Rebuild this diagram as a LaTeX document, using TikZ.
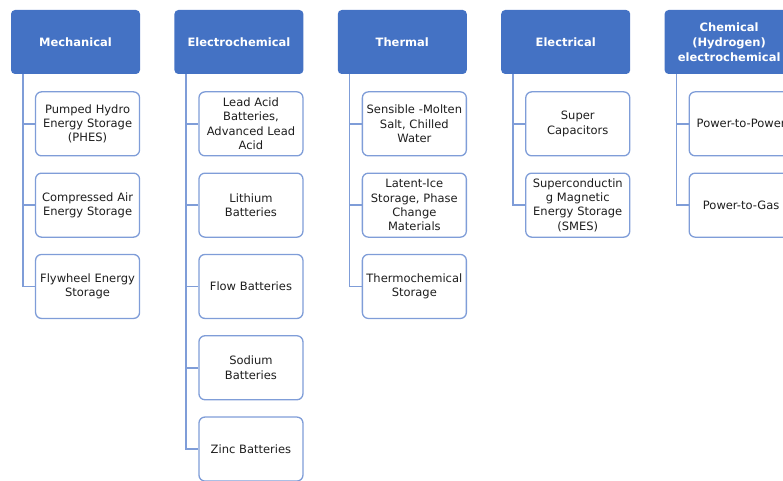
\documentclass[tikz,border=0pt]{standalone}
\usepackage{fontspec}
\setmainfont{DejaVu Sans}
\usetikzlibrary{positioning}
\definecolor{hdrblue}{HTML}{4472C4}
\definecolor{linkblue}{HTML}{7F9DD8}
\definecolor{itemtext}{HTML}{1E1E1E}
\tikzset{catbox/.style={fill=hdrblue, text=white, rounded corners=4pt,
  minimum width=129pt, minimum height=64pt, align=center,
  font=\fontsize{11.5}{15}\selectfont\bfseries},
  itembox/.style={draw=linkblue, line width=1.3pt, fill=white, rounded corners=6pt,
  text width=96pt, inner xsep=4pt, minimum height=64pt, align=center,
  text=itemtext, font=\fontsize{11.5}{14.3}\selectfont},
  link/.style={draw=linkblue, line width=1.5pt},
  tree/.style={x=1pt, y=1pt, node distance=16pt}}

\begin{document}
\begin{tikzpicture}[tree]
    \useasboundingbox (0,0) rectangle (783,-481);
    \clip (0,0) rectangle (783,-481);
    \node[catbox] (mech) at (75.5,-42) {Mechanical};
    \node[catbox, right=34pt of mech] (echem) {Electrochemical};
    \node[catbox, right=34pt of echem] (therm) {Thermal};
    \node[catbox, right=34pt of therm] (elec) {Electrical};
    \node[catbox, right=34pt of elec] (chem) {Chemical\\(Hydrogen)\\electrochemical};
    % mechanical
    \node[itembox, below left=17pt and 0pt of mech.south east] (phes) {Pumped Hydro\\Energy Storage\\(PHES)};
    \node[itembox, below=of phes] (caes) {Compressed Air\\Energy Storage};
    \node[itembox, below=of caes] (flywheel) {Flywheel Energy\\Storage};
    % electrochemical
    \node[itembox, below left=17pt and 0pt of echem.south east] (leadacid) {Lead Acid\\Batteries,\\Advanced Lead\\Acid};
    \node[itembox, below=of leadacid] (lithium) {Lithium\\Batteries};
    \node[itembox, below=of lithium] (flow) {Flow Batteries};
    \node[itembox, below=of flow] (sodium) {Sodium\\Batteries};
    \node[itembox, below=of sodium] (zinc) {Zinc Batteries};
    % thermal
    \node[itembox, below left=17pt and 0pt of therm.south east] (sensible) {Sensible -Molten\\Salt, Chilled\\Water};
    \node[itembox, below=of sensible] (latent) {Latent-Ice\\Storage, Phase\\Change\\Materials};
    \node[itembox, below=of latent] (thermochem) {Thermochemical\\Storage};
    % electrical
    \node[itembox, below left=17pt and 0pt of elec.south east] (supercap) {Super\\Capacitors};
    \node[itembox, below=of supercap] (smes) {Superconductin\\g Magnetic\\Energy Storage\\(SMES)};
    % chemical
    \node[itembox, below left=17pt and 0pt of chem.south east] (p2p) {Power-to-Power};
    \node[itembox, below=of p2p] (p2g) {Power-to-Gas};
    % trunks
    \foreach \cat/\last in {mech/flywheel, echem/zinc, therm/thermochem, elec/smes, chem/p2g} {
      \coordinate (\cat trunk) at ([xshift=12pt]\cat.south west);
      \draw[link] (\cat trunk) |- (\last.west);
    }
    % branches
    \foreach \cat/\item in {mech/phes, mech/caes, echem/leadacid, echem/lithium,
      echem/flow, echem/sodium, therm/sensible, therm/latent, elec/supercap, chem/p2p}
      \draw[link] (\item.west) -- (\item.west -| \cat trunk);
\end{tikzpicture}
\end{document}
